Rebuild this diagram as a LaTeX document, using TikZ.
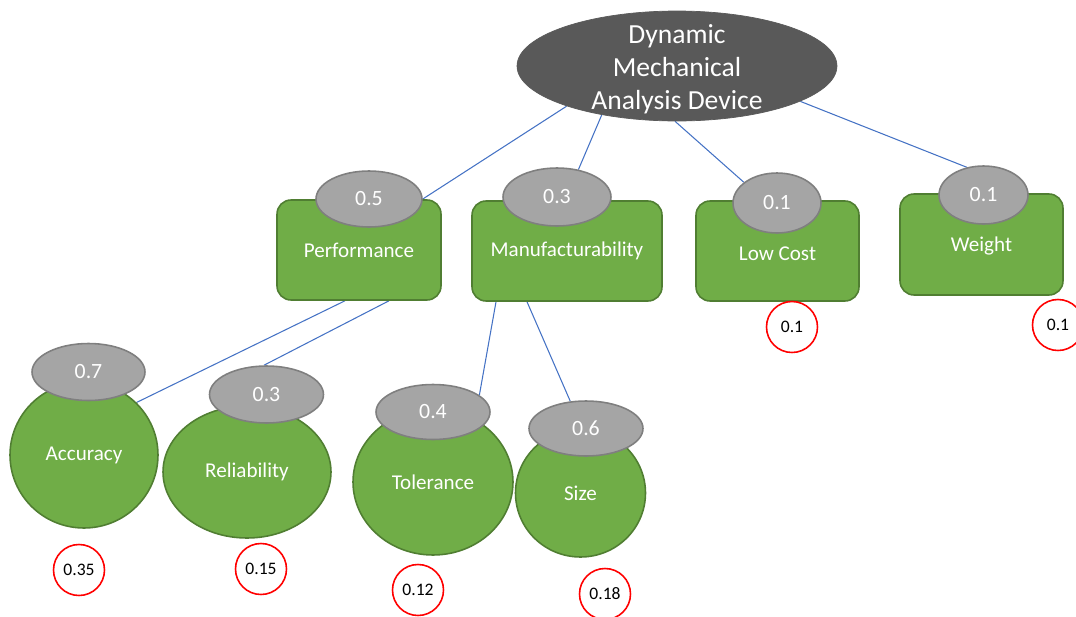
\documentclass[tikz,border=0pt]{standalone}
\usepackage{fontspec}
\setmainfont{Carlito}
\usetikzlibrary{shapes.geometric,calc}
\pgfdeclarelayer{bg}\pgfsetlayers{bg,main}
\definecolor{gfill}{HTML}{70AD47}
\definecolor{gdraw}{HTML}{507E32}
\definecolor{wfill}{HTML}{A5A5A5}
\definecolor{wdraw}{HTML}{7F7F7F}
\definecolor{tfill}{HTML}{595959}
\definecolor{lblue}{HTML}{4472C4}
\begin{document}
\begin{tikzpicture}[x=0.02cm,y=-0.02cm,
 box/.style={draw=gdraw, fill=gfill, line width=0.9pt, rounded corners=0.28cm, text=white, font=\fontsize{12}{14}\selectfont, inner sep=0pt},
 circ/.style={ellipse, draw=gdraw, fill=gfill, line width=0.9pt, text=white, font=\fontsize{12}{14}\selectfont, inner sep=0pt},
 wt/.style={ellipse, draw=wdraw, fill=wfill, line width=0.9pt, text=white, font=\fontsize{12.4}{14}\selectfont, inner sep=0pt},
 res/.style={circle, draw=red, fill=white, line width=0.9pt, minimum size=1.02cm, inner sep=0pt, font=\fontsize{10}{12}\selectfont},
 conn/.style={draw=lblue, line width=0.6pt}]
\useasboundingbox (0,0) rectangle (1076,616);
\clip (0,0) rectangle (1076,616);

% top
\node[ellipse, fill=tfill, draw=tfill, minimum width=6.4cm, minimum height=2.2cm, inner sep=0pt,
  label={[text=white, align=center, yshift=-0.06cm, font=\fontsize{15.7}{18.7}\selectfont]center:Dynamic\\Mechanical\\Analysis Device}] (top) at (677,66) {};

% second level boxes
\node[box, minimum width=3.28cm, minimum height=2cm] (perf) at (359,250) {Performance};
\node[box, minimum width=3.8cm, minimum height=2cm] (manu) at (567,251) {Manufacturability};
\node[box, minimum width=3.26cm, minimum height=2cm, text height=2.2ex] (cost) at (777.5,251) {Low Cost};
\node[box, minimum width=3.26cm, minimum height=2.02cm, text height=2.1ex] (weight) at (981.5,244.5) {Weight};

\node[wt, minimum width=2.12cm, minimum height=1.12cm] (w05) at (369,199) {0.5};
\node[wt, minimum width=2.16cm, minimum height=1.16cm] (w03) at (557,197) {0.3};
\node[wt, minimum width=1.76cm, minimum height=1.2cm] (wLC) at (777,203) {0.1};
\node[wt, minimum width=1.78cm, minimum height=1.16cm] (wW) at (983.5,195) {0.1};

\node[res] (rLC) at (792,327) {0.1};
\node[res] (rW) at (1058,325) {0.1};

% third level
\node[circ, minimum width=2.96cm, minimum height=2.92cm] (acc) at (84,455) {Accuracy};
\node[circ, minimum width=3.36cm, minimum height=2.64cm] (rel) at (247,472) {Reliability};
\node[circ, minimum width=3.2cm, minimum height=2.92cm] (tol) at (433,482) {Tolerance};
\node[circ, minimum width=2.6cm, minimum height=2.56cm] (size) at (580.5,493) {Size};

\node[wt, minimum width=2.26cm, minimum height=1.14cm] (w07) at (88.5,372) {0.7};
\node[wt, minimum width=2.28cm, minimum height=1.14cm] (w03b) at (266.5,394.5) {0.3};
\node[wt, minimum width=2.28cm, minimum height=1.1cm] (w04) at (433,412) {0.4};
\node[wt, minimum width=2.28cm, minimum height=1.1cm] (w06) at (586,428.5) {0.6};

\node[res] (rAcc) at (79,570) {0.35};
\node[res] (rRel) at (261,569) {0.15};
\node[res] (rTol) at (418,590) {0.12};
\node[res] (rSize) at (605,594) {0.18};

% connectors
\begin{pgfonlayer}{bg}
\draw[conn] (top.200) -- (w05.east);
\draw[conn] (top.213) -- (w03.52);
\draw[conn] (top.268) -- (wLC.148);
\draw[conn] (top.344) -- (wW.121);
\draw[conn] ([xshift=-0.28cm]perf.south) -- (acc.45);
\draw[conn] ([xshift=0.6cm]perf.south) -- (w03b.95);
\draw[conn] ([xshift=-1.42cm]manu.south) -- (w04.20);
\draw[conn] ([xshift=-0.8cm]manu.south) -- (w06.120);
\end{pgfonlayer}
\end{tikzpicture}
\end{document}
